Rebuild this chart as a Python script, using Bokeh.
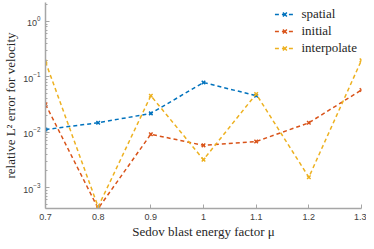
from bokeh.plotting import figure
from bokeh.embed import file_html
from bokeh.resources import INLINE
from bokeh.models import Range1d, Legend, LegendItem, FixedTicker

mu = [0.7, 0.8, 0.9, 1.0, 1.1, 1.2, 1.3]
mu_spatial = [0.7, 0.8, 0.9, 1.0, 1.1]
spatial = [0.0112, 0.0148, 0.0219, 0.079, 0.0457]
initial = [0.032, 0.00042, 0.0092, 0.0058, 0.0068, 0.0148, 0.058]
interpolate = [0.187, 0.00045, 0.0457, 0.0032, 0.049, 0.00154, 0.20]

xticks = [0.7, 0.8, 0.9, 1.0, 1.1, 1.2, 1.3]
xtick_labels = {0.7: "0.7", 0.8: "0.8", 0.9: "0.9", 1.0: "1", 1.1: "1.1", 1.2: "1.2", 1.3: "1.3"}

colors = ["#0072BD", "#D95319", "#EDB120"]

p = figure(width=366, height=241, y_axis_type="log", output_backend="svg",
           toolbar_location=None, x_range=Range1d(0.7, 1.3), y_range=Range1d(4.2e-4, 2.2),
           min_border_left=30, min_border_right=5, min_border_top=2, min_border_bottom=29)
p.outline_line_color = None
p.xgrid.visible = False
p.ygrid.visible = False

items = []
series = [("spatial", mu_spatial, spatial), ("initial", mu, initial), ("interpolate", mu, interpolate)]
for (name, xs, ys), c in zip(series, colors):
    l = p.line(xs, ys, line_color=c, line_width=1.5, line_dash="4 3")
    m = p.scatter(xs, ys, marker="x", size=5, line_color=c, line_width=1.5)
    items.append(LegendItem(label=name, renderers=[l, m]))

legend = Legend(items=items, location="top_right", border_line_color=None,
                background_fill_alpha=0, label_text_font="Liberation Serif",
                label_text_font_size="13px", label_text_color="#262626",
                glyph_width=20, glyph_height=14,
                label_height=14, spacing=1, padding=2, margin=4, label_standoff=7)
p.add_layout(legend)

p.xaxis.ticker = FixedTicker(ticks=xticks)
p.xaxis.major_label_overrides = xtick_labels
for ax in (p.xaxis, p.yaxis):
    ax.axis_line_color = "#a6a6a6"
    ax.axis_line_width = 1.5
    ax.major_tick_line_color = "#a6a6a6"
    ax.minor_tick_line_color = "#a6a6a6"
    ax.major_tick_in = 4
    ax.major_tick_out = 0
    ax.minor_tick_in = 2
    ax.minor_tick_out = 0
    ax.major_label_text_font = "Liberation Sans"
    ax.major_label_text_font_size = "9px"
    ax.major_label_text_color = "#404040"
    ax.axis_label_text_font = "Liberation Serif"
    ax.axis_label_text_font_size = "13px"
    ax.axis_label_text_font_style = "normal"
    ax.axis_label_text_color = "#262626"
p.xaxis.minor_tick_line_color = None
p.xaxis.axis_label = "Sedov blast energy factor μ"
p.yaxis.axis_label = "relative L² error for velocity"
p.xaxis.axis_label_standoff = 1
p.yaxis.axis_label_standoff = 2

open("out.html", "w").write(file_html(p, INLINE))
